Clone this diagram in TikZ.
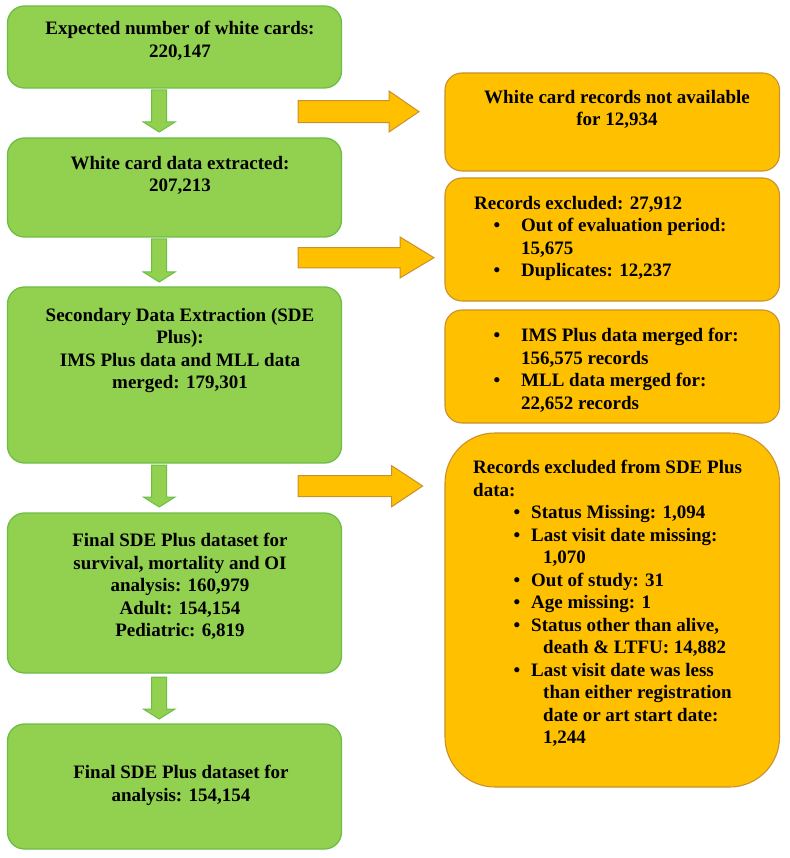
\documentclass[tikz,border=0pt]{standalone}
\usepackage{fontspec}
\setmainfont{Liberation Serif}
\usetikzlibrary{calc}
\definecolor{gfill}{HTML}{92D050}
\definecolor{gline}{HTML}{6DBE45}
\definecolor{ofill}{HTML}{FFC000}
\definecolor{oline}{HTML}{C8912E}
\newcommand\bul[2]{\makebox[#1][l]{\hskip#2\textbullet}}
\tikzset{
  gbox/.style={draw=gline, fill=gfill, line width=1.3pt, rounded corners=17pt, minimum width=334pt, inner sep=0pt},
  obox/.style={draw=oline, fill=ofill, line width=1.1pt, rounded corners=17pt, minimum width=334.5pt, inner sep=0pt},
  txt/.style={inner sep=0pt, font=\bfseries\fontsize{19}{22.5}\selectfont},
  garrow/.style={draw=gline, fill=gfill, line width=1pt, line join=miter},
  oarrow/.style={draw=oline, fill=ofill, line width=1pt, line join=miter},
}
\begin{document}
\begin{tikzpicture}[x=1pt,y=-1pt]
\useasboundingbox (0,0) rectangle (789,858);
\fill[white] (0,0) rectangle (789,858);
% green boxes
\node[gbox, minimum height=82pt] (b1) at (174.5,47) {};
\node[gbox, minimum height=99pt] (b2) at (174.5,187.5) {};
\node[gbox, minimum height=176pt] (b3) at (174.5,375) {};
\node[gbox, minimum height=160pt] (b4) at (174.5,593) {};
\node[gbox, minimum height=125pt] (b5) at (174.5,786.5) {};
% orange boxes
\node[obox, minimum height=98pt] (oa) at (612.25,122) {};
\node[obox, minimum height=123pt] (ob) at (612.25,239.5) {};
\node[obox, minimum height=113pt] (oc) at (612.25,366.5) {};
\node[obox, minimum height=354pt, rounded corners=50pt] (od) at (612.25,610) {};
% green texts
\node[txt, anchor=north, align=center] (t1) at (180,21) {Expected number of white cards:\\220,147};
\node[txt, anchor=north, align=center] (t2) at (180,156) {White card data extracted:\\207,213};
\node[txt, anchor=north, align=center] (t3) at (180,308) {Secondary Data Extraction (SDE\\Plus):\\IMS Plus data and MLL data\\merged: 179,301};
\node[txt, anchor=north, align=center] (t4) at (180,533) {Final SDE Plus dataset for\\survival, mortality and OI\\analysis: 160,979\\Adult: 154,154\\Pediatric: 6,819};
\node[txt, anchor=north, align=center] (t5) at (181,765) {Final SDE Plus dataset for\\analysis: 154,154};
% orange texts
\node[txt, anchor=north, align=center] (ta) at (617,90) {White card records not available\\for 12,934};
\node[txt, anchor=north west, align=left] (tb) at (474,196) {Records excluded: 27,912\\
\bul{47pt}{19.5pt}Out of evaluation period:\\
\hspace*{47pt}15,675\\
\bul{47pt}{19.5pt}Duplicates: 12,237};
\node[txt, anchor=north west, align=left] (tc) at (493.5,328) {\bul{27.5pt}{0pt}IMS Plus data merged for:\\
\hspace*{27.5pt}156,575 records\\
\bul{27.5pt}{0pt}MLL data merged for:\\
\hspace*{27.5pt}22,652 records};
\node[txt, anchor=north west, align=left] (td) at (473,460) {Records excluded from SDE Plus\\
data:\\
\bul{58pt}{40.5pt}Status Missing: 1,094\\
\bul{58pt}{40.5pt}Last visit date missing:\\
\hspace*{70pt}1,070\\
\bul{58pt}{40.5pt}Out of study: 31\\
\bul{58pt}{40.5pt}Age missing: 1\\
\bul{58pt}{40.5pt}Status other than alive,\\
\hspace*{70pt}death \& LTFU: 14,882\\
\bul{58pt}{40.5pt}Last visit date was less\\
\hspace*{70pt}than either registration\\
\hspace*{70pt}date or art start date:\\
\hspace*{70pt}1,244};
% green block arrows (down)
\foreach \top/\tip in {90/132, 239/282, 465/507, 677/719}{
  \draw[garrow] (151.7,\top) -- (166.7,\top) -- (166.7,\tip-10) -- (175,\tip-10) -- (159.2,\tip) -- (143.3,\tip-10) -- (151.7,\tip-10) -- cycle;
}
% orange block arrows (right)
\draw[oarrow] (298,100.7) -- (389,100.7) -- (389,91) -- (419,111.7) -- (389,132) -- (389,122.7) -- (298,122.7) -- cycle;
\draw[oarrow] (298,247.7) -- (400,247.7) -- (400,237) -- (434,257.7) -- (400,278) -- (400,268) -- (298,268) -- cycle;
\draw[oarrow] (298,475.7) -- (391.7,475.7) -- (391.7,465.7) -- (422.7,486) -- (391.7,506.7) -- (391.7,496.7) -- (298,496.7) -- cycle;
\end{tikzpicture}
\end{document}
